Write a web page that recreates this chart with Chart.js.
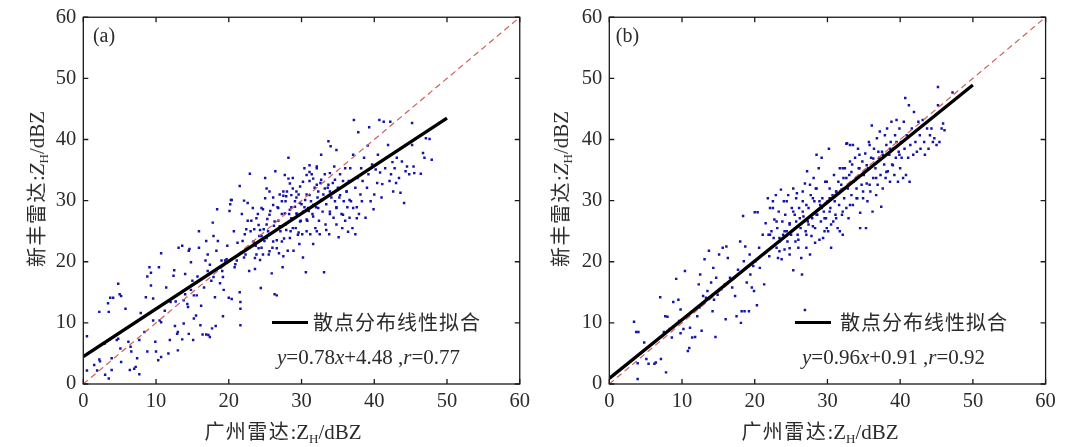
<!DOCTYPE html>
<html><head><meta charset="utf-8">
<script src="https://cdn.jsdelivr.net/npm/chart.js@4.4.1/dist/chart.umd.min.js"></script>
<style>
html,body{margin:0;padding:0;background:#fff;}
#stage{position:relative;width:1077px;height:447px;overflow:hidden;background:#fff;}
.panel{position:absolute;top:0;height:447px;}
.lbl{position:absolute;white-space:nowrap;color:#2b2b2b;font-family:'Liberation Serif','Times New Roman',serif;font-size:21px;line-height:1;}
.c{transform:translate(-50%,-50%);}
.r{transform:translate(-50%,-50%) rotate(-90deg);}
.v{transform:translateY(-50%);}
.cn{font-family:'Noto Sans CJK SC',sans-serif;font-size:20px;letter-spacing:1.5px;}
sub{font-size:62%;vertical-align:baseline;position:relative;top:0.3em;}
.legline{position:absolute;height:3px;background:#000;}
</style></head>
<body><div id="stage">
<div class="panel" id="pa" style="left:0;width:537px"><canvas id="ca"></canvas></div>
<div class="panel" id="pb" style="left:537px;width:540px"><canvas id="cb"></canvas></div>

<div class="lbl r" style="left:36.5px;top:189px"><span class="cn">新丰雷达</span>:<i>Z</i><sub>H</sub>/dBZ</div>
<div class="lbl c" style="left:283px;top:432px"><span class="cn">广州雷达</span>:Z<sub>H</sub>/dBZ</div>
<div class="lbl c" style="left:104px;top:35px;font-size:20px">(a)</div>
<div class="legline" style="left:272px;top:320.5px;width:36px"></div>
<div class="lbl v cn" style="left:313px;top:322px;font-size:20px;letter-spacing:1px">散点分布线性拟合</div>
<div class="lbl v" style="left:277px;top:357px"><i>y</i>=0.78<i>x</i>+4.48 ,<i>r</i>=0.77</div>

<div class="lbl r" style="left:561px;top:189px"><span class="cn">新丰雷达</span>:<i>Z</i><sub>H</sub>/dBZ</div>
<div class="lbl c" style="left:820px;top:432px"><span class="cn">广州雷达</span>:Z<sub>H</sub>/dBZ</div>
<div class="lbl c" style="left:627.5px;top:35px;font-size:20px">(b)</div>
<div class="legline" style="left:795px;top:320.5px;width:36px"></div>
<div class="lbl v cn" style="left:840px;top:322px;font-size:20px;letter-spacing:1px">散点分布线性拟合</div>
<div class="lbl v" style="left:802px;top:357px"><i>y</i>=0.96<i>x</i>+0.91 ,<i>r</i>=0.92</div>
</div>
<script>
// ---- data ----
const axisMin = 0, axisMax = 60, tickStep = 10;
const identityLine = [[0,0],[60,60]];
const fitLineA = [[0,4.48],[50,43.48]];
const fitLineB = [[0,0.91],[50,48.91]];
const scatterA = [[0.5,7.8],[0.5,2.2],[1.5,3.1],[2.2,11.8],[2.2,4.0],[2.3,3.7],[1.9,2.2],[2.9,6.6],[3.4,13.2],[3.5,11.8],[3.0,1.5],[3.5,0.9],[3.7,14.1],[4.1,14.1],[3.9,4.2],[3.9,2.3],[4.8,16.4],[5.0,14.7],[5.2,14.4],[4.6,7.2],[4.8,7.4],[5.1,5.8],[5.2,3.6],[5.8,12.3],[6.2,6.9],[6.5,6.1],[6.6,5.3],[6.4,2.3],[7.0,2.5],[7.2,2.8],[7.4,4.2],[7.7,7.2],[7.7,1.6],[7.9,11.6],[8.4,8.5],[8.6,14.2],[8.8,17.6],[8.8,5.3],[9.1,19.1],[9.3,18.2],[9.3,16.1],[9.6,14.0],[9.6,10.4],[9.9,6.9],[10.0,5.3],[10.3,3.9],[10.4,19.1],[10.5,10.4],[10.7,10.1],[10.7,21.4],[10.7,4.4],[11.2,12.0],[11.4,15.8],[11.7,5.0],[11.9,7.2],[12.0,13.4],[12.4,17.7],[12.5,18.6],[12.6,9.5],[12.7,13.5],[12.9,8.2],[13.0,8.5],[13.0,5.5],[13.1,22.3],[13.6,22.6],[13.6,7.3],[13.8,13.7],[13.8,9.9],[14.0,18.0],[14.0,14.7],[14.3,13.1],[14.4,12.6],[14.5,8.2],[14.5,21.8],[14.6,22.1],[14.8,19.9],[15.0,16.9],[14.8,15.4],[15.2,14.5],[15.1,7.2],[15.2,10.7],[15.5,11.2],[15.6,14.5],[15.7,17.6],[15.9,22.3],[15.9,25.0],[16.1,9.6],[16.2,12.8],[16.4,8.1],[16.6,15.8],[16.8,20.2],[16.9,23.4],[16.9,8.1],[17.1,18.5],[17.1,21.2],[17.2,8.0],[17.4,19.5],[17.4,7.7],[17.6,16.9],[17.7,9.1],[17.8,26.4],[17.9,24.2],[17.9,17.5],[18.1,14.2],[18.2,9.5],[18.3,21.8],[18.4,28.6],[18.5,23.4],[18.8,16.5],[18.9,19.1],[19.0,20.2],[19.1,18.5],[19.2,17.5],[19.2,11.1],[19.3,15.4],[19.5,20.2],[19.7,20.4],[19.8,22.6],[20.0,14.1],[20.1,28.3],[20.2,29.4],[20.3,30.1],[20.4,30.1],[20.4,13.9],[20.7,25.0],[20.8,19.1],[20.9,19.6],[21.1,20.2],[21.2,23.1],[21.5,32.4],[21.5,15.0],[21.6,13.4],[21.6,12.3],[21.6,9.6],[21.8,27.8],[21.9,23.4],[22.1,30.0],[22.1,20.7],[22.2,24.5],[22.3,21.2],[22.4,25.3],[22.6,26.7],[22.6,29.6],[22.8,18.5],[22.9,34.4],[23.0,25.0],[23.1,26.7],[23.3,28.8],[23.5,25.3],[23.6,18.8],[23.7,22.6],[23.8,21.2],[24.0,27.8],[24.1,26.0],[24.2,24.2],[24.3,20.3],[24.4,15.7],[24.5,22.3],[24.7,28.6],[24.8,25.3],[24.9,23.4],[25.0,33.7],[25.2,32.0],[25.3,27.0],[25.4,25.0],[25.5,21.2],[25.6,24.5],[25.7,28.3],[25.9,18.1],[26.0,22.3],[26.1,30.5],[26.2,25.9],[26.3,14.7],[26.6,14.5],[26.4,34.8],[26.6,23.5],[26.7,28.9],[26.8,26.7],[26.9,21.4],[27.0,31.0],[27.1,25.0],[27.3,27.8],[27.4,19.1],[27.5,30.8],[27.6,23.8],[27.8,26.1],[27.8,29.9],[28.0,31.5],[28.1,21.8],[28.2,37.0],[28.3,27.8],[28.5,25.0],[28.6,28.9],[28.7,27.0],[28.8,33.7],[28.9,21.8],[29.1,29.9],[29.2,25.5],[29.3,30.5],[29.4,27.8],[29.6,24.8],[29.6,31.0],[29.7,22.9],[29.9,26.7],[30.0,29.4],[30.1,24.5],[30.2,20.7],[30.4,35.3],[30.4,28.9],[30.6,18.3],[30.7,31.0],[30.8,26.7],[31.0,28.3],[31.1,33.2],[31.2,24.5],[31.3,29.9],[31.4,34.3],[31.5,27.8],[31.6,22.9],[31.8,32.1],[31.9,25.5],[32.0,28.9],[32.1,35.6],[32.2,30.5],[32.4,26.7],[32.5,24.5],[32.6,32.9],[32.7,37.5],[32.9,28.2],[33.0,31.0],[33.1,18.3],[33.2,34.3],[33.3,26.1],[33.4,29.4],[33.6,32.1],[33.7,39.7],[33.8,24.5],[33.9,27.8],[34.0,38.9],[34.1,30.5],[34.3,32.9],[34.4,27.2],[34.5,35.6],[34.6,29.9],[34.8,28.9],[34.8,38.3],[35.0,32.1],[35.1,24.0],[35.2,30.5],[35.3,34.3],[35.5,27.8],[35.6,25.5],[35.7,33.2],[35.8,29.9],[36.0,26.7],[36.0,35.3],[36.2,31.5],[36.3,28.9],[36.4,24.9],[36.5,33.2],[36.6,27.2],[36.7,35.3],[36.8,29.9],[37.0,25.5],[37.1,37.5],[37.2,43.2],[37.4,32.1],[37.4,24.5],[37.6,28.9],[37.7,33.7],[37.8,41.2],[37.9,27.8],[38.1,31.0],[38.2,35.3],[38.3,29.9],[38.4,33.2],[38.6,37.0],[38.8,27.2],[39.0,32.1],[39.1,39.0],[39.2,34.3],[39.3,42.0],[39.5,29.9],[39.7,35.9],[39.9,28.6],[40.0,31.0],[40.2,35.1],[40.4,32.9],[40.5,37.5],[40.7,43.2],[40.8,34.6],[41.0,30.5],[41.1,32.7],[41.3,42.9],[41.5,35.3],[41.7,37.0],[41.9,39.1],[42.1,33.2],[42.2,42.9],[42.3,34.3],[42.5,36.3],[42.6,31.5],[42.8,35.3],[43.0,32.9],[43.1,37.0],[43.4,33.7],[43.6,31.3],[43.8,36.4],[44.1,29.6],[44.3,34.8],[44.5,35.6],[44.8,34.3],[45.2,42.7],[45.2,39.1],[45.4,35.6],[45.5,34.5],[46.4,34.4],[46.7,37.8],[46.9,37.0],[47.1,40.2],[47.6,40.1],[47.9,36.7],
[27.7,34.2],[28.2,33.6],[28.4,32.8],[28.8,32.0],[28.6,30.9],[27.9,30.7],[27.5,31.5],[29.3,31.5],[29.8,32.3],[30.2,33.1],[30.7,34.2],[31.1,34.7],[31.6,33.6],[32.1,32.6],[32.3,31.5],[32.7,33.4],[33.2,32.0],[33.7,32.6],[33.9,31.5],[31.1,30.9],[30.5,30.1],[29.8,29.6],[29.1,29.0],[28.4,28.5],[27.7,27.9],[29.3,27.9],[30.2,28.2],[30.9,28.8],[31.6,29.3],[32.3,28.8],[32.7,30.1],[28.6,27.1],[29.8,26.6],[30.7,26.9],[31.6,27.4],[27.3,29.9],[26.8,28.8],[26.1,29.3],[25.6,27.7],[26.3,26.6],[27.0,25.8],[27.9,25.2],[28.8,25.5],[25.6,31.5],[25.0,30.4],[24.5,28.8],[25.2,26.1],[24.3,25.2],[23.8,27.1],[31.1,35.8],[32.1,35.3],[33.9,34.5],[34.6,33.4],[35.3,30.9],[36.2,31.5],[36.6,30.1],[34.8,28.8],[33.9,28.2],[35.7,27.7],[37.1,28.8],[37.6,27.1],[34.8,26.1],[33.4,25.2],[32.1,25.0],[30.7,25.0],[29.5,24.4],[28.4,23.9],[27.3,23.3],[26.1,23.3],[25.2,23.9],[23.4,23.3],[24.1,22.2],[24.7,21.2],[23.6,20.6],[25.6,21.7],[26.6,22.2],[27.5,20.9],[24.5,24.2]];
const scatterB = [[3.4,10.2],[3.7,8.5],[4.0,8.5],[3.9,0.8],[3.9,3.4],[4.8,6.8],[5.1,4.1],[5.4,3.3],[6.2,3.3],[6.4,3.5],[7.0,14.2],[7.1,4.1],[7.5,8.5],[7.7,11.1],[7.8,1.9],[8.0,11.0],[8.3,9.0],[8.6,7.6],[8.8,13.4],[9.2,17.2],[9.5,13.8],[9.6,10.3],[9.8,12.2],[9.8,8.3],[10.2,9.0],[10.4,18.5],[10.8,5.4],[11.0,5.9],[11.1,9.2],[11.4,7.6],[11.8,7.7],[12.1,11.1],[12.3,16.3],[12.4,12.5],[12.5,17.9],[12.7,8.7],[12.9,14.4],[13.1,20.4],[13.3,14.1],[13.5,15.2],[13.7,21.8],[14.0,16.6],[14.2,11.9],[14.3,19.0],[14.4,13.8],[14.6,7.7],[14.7,17.4],[14.9,14.6],[15.1,21.2],[15.4,15.5],[15.6,22.3],[15.9,16.3],[16.0,10.6],[16.1,22.5],[16.3,20.6],[16.6,17.4],[16.9,15.8],[17.3,14.4],[17.5,11.1],[17.7,18.7],[18.0,23.3],[18.1,10.0],[18.2,11.9],[18.4,27.5],[18.5,20.1],[18.6,11.9],[18.7,22.5],[18.8,19.0],[18.9,16.6],[19.2,11.9],[19.3,21.2],[19.4,17.9],[19.6,15.8],[19.8,19.3],[19.9,15.2],[20.0,28.1],[20.1,20.1],[20.3,12.9],[20.4,28.1],[20.6,22.3],[20.7,19.0],[21.1,24.4],[21.3,16.3],[21.5,26.3],[21.8,30.4],[21.9,24.4],[22.0,20.9],[22.1,28.8],[22.3,25.0],[22.5,29.9],[22.6,23.9],[22.7,26.9],[22.9,30.9],[23.0,22.3],[23.1,25.5],[23.2,20.6],[23.3,28.2],[23.4,23.3],[23.6,31.8],[23.7,20.4],[23.8,26.6],[23.9,24.4],[24.0,29.9],[24.1,22.0],[24.2,27.7],[24.4,25.0],[24.5,23.3],[24.6,30.9],[24.8,26.3],[24.8,21.2],[25.0,24.4],[25.1,28.8],[25.3,18.6],[25.5,27.7],[25.6,23.3],[25.7,26.6],[25.8,31.2],[25.9,24.4],[26.0,22.3],[26.1,28.8],[26.3,25.5],[26.4,20.6],[26.5,17.9],[26.6,29.9],[26.7,27.4],[26.9,32.8],[26.9,12.1],[27.0,25.0],[27.1,22.3],[27.2,34.8],[27.4,28.8],[27.4,26.1],[27.6,21.2],[27.7,30.9],[27.8,24.2],[27.9,27.1],[28.1,33.7],[28.2,29.9],[28.3,25.5],[28.4,32.0],[28.5,37.5],[28.6,27.7],[28.8,35.3],[28.9,23.6],[29.0,29.3],[29.1,26.6],[29.2,37.0],[29.3,30.4],[29.5,28.2],[29.6,25.0],[29.7,33.1],[29.8,27.1],[30.0,29.9],[30.1,25.0],[30.2,38.5],[30.3,32.0],[30.4,28.8],[30.5,22.3],[30.7,30.9],[30.8,26.6],[30.9,34.2],[31.0,29.9],[31.1,27.7],[31.2,31.5],[31.4,25.5],[31.5,33.1],[31.6,29.3],[31.7,35.3],[31.9,31.8],[32.0,27.7],[32.1,24.4],[32.2,33.7],[32.3,30.4],[32.4,35.3],[32.6,28.8],[32.7,39.4],[32.8,32.0],[32.9,27.1],[33.0,34.2],[33.1,39.1],[33.3,30.9],[33.4,35.9],[33.5,29.3],[33.6,33.1],[33.8,37.0],[34.0,32.0],[34.1,30.4],[34.2,38.5],[34.3,35.3],[34.5,28.0],[34.5,25.5],[35.3,25.5],[34.7,32.6],[34.8,36.4],[34.9,30.4],[35.0,34.2],[35.2,37.7],[35.4,32.8],[35.5,29.9],[35.6,35.3],[35.7,39.6],[35.9,31.5],[36.0,37.0],[36.1,42.3],[36.2,28.2],[36.3,33.7],[36.4,38.5],[36.6,35.3],[36.7,30.9],[36.8,40.2],[36.9,32.6],[37.1,37.0],[37.2,41.3],[37.3,34.2],[37.4,29.0],[37.5,38.0],[37.6,32.0],[37.8,35.9],[37.9,40.7],[38.0,33.7],[38.1,39.1],[38.2,41.8],[38.3,34.8],[38.5,37.5],[38.6,33.1],[38.7,39.6],[38.8,42.9],[38.9,35.9],[39.0,38.5],[39.2,34.2],[39.3,40.7],[39.4,37.0],[39.5,43.2],[39.7,33.1],[39.8,38.0],[39.9,41.8],[40.0,35.3],[40.1,39.6],[40.2,37.0],[40.4,33.7],[40.5,42.9],[40.6,38.5],[40.7,46.8],[40.8,34.2],[40.9,40.7],[41.1,37.0],[41.2,45.6],[41.3,33.1],[41.4,39.1],[41.6,41.8],[41.8,37.5],[41.9,44.5],[42.1,39.6],[42.3,38.0],[42.5,42.9],[42.7,40.7],[42.8,38.5],[43.1,43.2],[43.3,39.6],[43.4,37.5],[43.7,41.8],[43.9,38.5],[44.1,40.7],[44.3,41.8],[44.5,39.6],[44.7,40.2],[45.0,39.1],[45.2,48.6],[45.2,45.6],[45.4,39.6],[45.7,41.8],[45.9,42.6],[46.1,41.5],[47.2,47.7],
[26.6,28.2],[27.3,26.6],[28.0,25.8],[28.5,27.7],[29.2,28.8],[29.6,27.1],[29.9,25.5],[30.3,28.2],[28.9,29.9],[28.0,30.4],[27.1,29.3],[26.2,27.1],[25.3,28.2],[24.8,26.1],[24.1,25.0],[23.4,23.9],[23.0,26.6],[22.5,28.8],[22.1,24.4],[30.3,30.4],[31.2,31.5],[31.9,32.6],[32.6,33.7],[33.3,34.7],[34.0,33.7],[34.4,35.3],[35.4,35.8],[36.3,36.9],[37.0,38.0],[37.6,37.5],[38.6,38.5],[39.5,39.6],[39.9,37.5],[39.0,35.8],[38.1,34.7],[36.7,33.7],[35.8,32.6],[34.9,31.5],[34.0,30.4],[33.1,29.3],[32.1,28.2],[31.2,27.1],[30.5,26.1],[31.7,25.0],[29.4,23.9],[28.3,23.1],[27.1,24.4],[26.0,23.6],[24.8,22.2],[23.4,21.7],[28.5,32.0],[29.9,33.1],[27.6,32.6],[26.6,31.5],[25.7,30.4],[24.4,29.9],[25.3,32.0],[32.1,35.3],[33.1,36.4],[34.4,37.5],[35.8,39.1],[33.5,39.1],[32.6,39.3]];

const toPts = arr => arr.map(p => ({x: p[0], y: p[1]}));

const framePlugin = {
  id: 'frame',
  afterDatasetsDraw(chart) {
    const {ctx, chartArea: {left, right, top, bottom}, scales: {x, y}} = chart;
    ctx.save();
    ctx.strokeStyle = '#1a1a1a';
    ctx.lineWidth = 1.3;
    ctx.strokeRect(left, top, right - left, bottom - top);
    const L = 5;
    ctx.beginPath();
    x.ticks.forEach(t => {
      const px = x.getPixelForValue(t.value);
      ctx.moveTo(px, bottom); ctx.lineTo(px, bottom - L);
      ctx.moveTo(px, top); ctx.lineTo(px, top + L);
    });
    y.ticks.forEach(t => {
      const py = y.getPixelForValue(t.value);
      ctx.moveTo(left, py); ctx.lineTo(left + L, py);
      ctx.moveTo(right, py); ctx.lineTo(right - L, py);
    });
    ctx.stroke();
    ctx.restore();
  }
};

function makeChart(id, pts, fit, yWidth, padRight) {
  const tickFont = {family: "'Liberation Serif','Times New Roman',serif", size: 20.5, lineHeight: 1};
  return new Chart(document.getElementById(id), {
    type: 'scatter',
    data: {
      datasets: [
        {data: toPts(fit), showLine: true, borderColor: '#000', borderWidth: 3.3, pointRadius: 0, order: 1},
        {data: toPts(identityLine), showLine: true, borderColor: '#cf5f5f', borderWidth: 1.2, borderDash: [6, 4], pointRadius: 0, order: 2},
        {data: toPts(pts), showLine: false, pointRadius: 1.75, pointBorderWidth: 0, pointBackgroundColor: '#1414a6', pointStyle: 'rect', order: 3}
      ]
    },
    options: {
      responsive: true, maintainAspectRatio: false, animation: false, events: [],
      layout: {padding: {left: 0, right: padRight, top: 15, bottom: 0}},
      plugins: {legend: {display: false}, tooltip: {enabled: false}},
      scales: {
        x: {
          type: 'linear', min: axisMin, max: axisMax,
          grid: {display: false, drawTicks: false}, border: {display: false},
          ticks: {stepSize: tickStep, font: tickFont, color: '#2b2b2b', padding: 7, maxRotation: 0, autoSkip: false},
          afterFit: s => { s.height = 63; }
        },
        y: {
          type: 'linear', min: axisMin, max: axisMax,
          grid: {display: false, drawTicks: false}, border: {display: false},
          ticks: {stepSize: tickStep, font: tickFont, color: '#2b2b2b', padding: 7, autoSkip: false},
          afterFit: s => { s.width = yWidth; }
        }
      }
    },
    plugins: [framePlugin]
  });
}

makeChart('ca', scatterA, fitLineA, 83.3, 17);
makeChart('cb', scatterB, fitLineB, 72.3, 31.4);
</script>
</body></html>
